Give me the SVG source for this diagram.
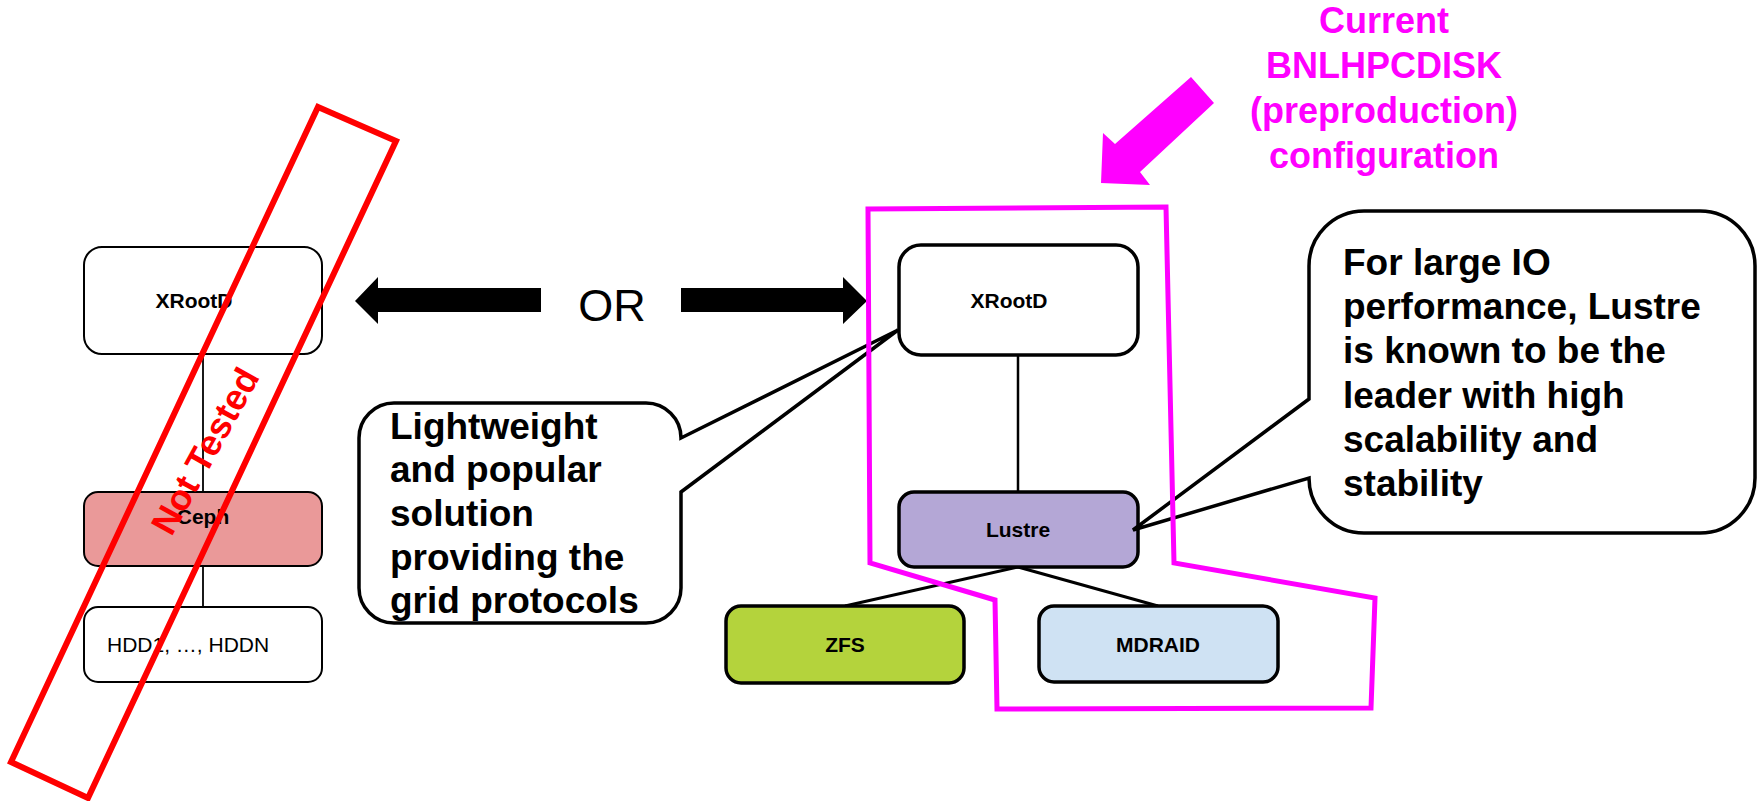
<svg xmlns="http://www.w3.org/2000/svg" width="1758" height="801" viewBox="0 0 1758 801">
<style>
text{font-family:"Liberation Sans",Arial,sans-serif}
.lbl{font-size:21px;font-weight:bold;text-anchor:middle;fill:#000}
.thin{stroke:#000;stroke-width:2;}
.thick{stroke:#000;stroke-width:3.5;}
.call{font-size:37px;font-weight:bold;fill:#000}
.mag{font-size:36px;font-weight:bold;fill:#FF00FF;text-anchor:middle}
.conn{stroke:#000;fill:none}
</style>
<rect width="1758" height="801" fill="#fff"/>

<g id="connectors">
  <line class="conn" x1="203" y1="354" x2="203" y2="492" stroke-width="1.8"/>
  <line class="conn" x1="203" y1="566" x2="203" y2="607" stroke-width="1.8"/>
  <line class="conn" x1="1018" y1="355" x2="1018" y2="492" stroke-width="2.5"/>
  <line class="conn" x1="1018" y1="567" x2="845" y2="606" stroke-width="3"/>
  <line class="conn" x1="1018" y1="567" x2="1158" y2="606" stroke-width="3"/>
</g>

<g id="left-xrootd">
  <rect x="84" y="247" width="238" height="107" rx="18" fill="#fff" class="thin"/>
  <text class="lbl" x="194" y="308">XRootD</text>
</g>
<g id="left-ceph">
  <rect x="84" y="492" width="238" height="74" rx="14" fill="#EA9999" class="thin"/>
  <text class="lbl" x="203" y="524">Ceph</text>
</g>
<g id="left-hdd">
  <rect x="84" y="607" width="238" height="75" rx="14" fill="#fff" class="thin"/>
  <text x="107" y="652" font-size="21" fill="#000">HDD1, …, HDDN</text>
</g>

<g id="or-arrows">
  <polygon points="355,301 378,277 378,288 541,288 541,312 378,312 378,324" fill="#000"/>
  <polygon points="867,301 843,277 843,288 681,288 681,312 843,312 843,324" fill="#000"/>
  <text x="612" y="321" font-size="45" text-anchor="middle" fill="#000">OR</text>
</g>

<g id="callout-left">
  <path d="M394,403 H646 A35 35 0 0 1 681,438 L898,330 L681,492 V588 A35 35 0 0 1 646,623 H394 A35 35 0 0 1 359,588 V438 A35 35 0 0 1 394,403 Z" fill="#fff" class="thick"/>
  <text class="call" x="390" y="439">Lightweight</text>
  <text class="call" x="390" y="482">and popular</text>
  <text class="call" x="390" y="526">solution</text>
  <text class="call" x="390" y="570">providing the</text>
  <text class="call" x="390" y="613">grid protocols</text>
</g>

<g id="right-xrootd">
  <rect x="899" y="245" width="239" height="110" rx="22" fill="#fff" class="thick"/>
  <text class="lbl" x="1009" y="308">XRootD</text>
</g>
<g id="lustre">
  <rect x="899" y="492" width="239" height="75" rx="15" fill="#B4A7D6" class="thick"/>
  <text class="lbl" x="1018" y="537">Lustre</text>
</g>
<g id="zfs">
  <rect x="726" y="606" width="238" height="77" rx="15" fill="#B4D33C" class="thick"/>
  <text class="lbl" x="845" y="652">ZFS</text>
</g>
<g id="mdraid">
  <rect x="1039" y="606" width="239" height="76" rx="15" fill="#CFE2F3" class="thick"/>
  <text class="lbl" x="1158" y="652">MDRAID</text>
</g>

<g id="callout-right">
  <path d="M1364,211 H1700 A55 55 0 0 1 1755,266 V478 A55 55 0 0 1 1700,533 H1364 A55 55 0 0 1 1309,478 L1133,530 L1309,399 V266 A55 55 0 0 1 1364,211 Z" fill="#fff" class="thick"/>
  <text class="call" x="1343" y="275">For large IO</text>
  <text class="call" x="1343" y="319">performance, Lustre</text>
  <text class="call" x="1343" y="363">is known to be the</text>
  <text class="call" x="1343" y="408">leader with high</text>
  <text class="call" x="1343" y="452">scalability and</text>
  <text class="call" x="1343" y="496">stability</text>
</g>

<g id="current-config">
  <polygon points="868,209 1166,207 1174,563 1375,598 1371,708 997,709 995,600 870,563" fill="none" stroke="#FF00FF" stroke-width="5" stroke-linejoin="miter"/>
  <polygon points="1191,77 1214,103 1140,172 1150,185 1101,183 1103,133 1115,144" fill="#FF00FF"/>
  <text class="mag" x="1384" y="33">Current</text>
  <text class="mag" x="1384" y="78">BNLHPCDISK</text>
  <text class="mag" x="1384" y="123">(preproduction)</text>
  <text class="mag" x="1384" y="168">configuration</text>
</g>

<g id="not-tested">
  <polygon points="318,107 396,141 88,798 11,762" fill="none" stroke="#FF0000" stroke-width="6"/>
  <text x="0" y="0" transform="translate(216,457) rotate(-61)" font-size="36" font-weight="bold" fill="#FF0000" text-anchor="middle">Not Tested</text>
</g>
</svg>
